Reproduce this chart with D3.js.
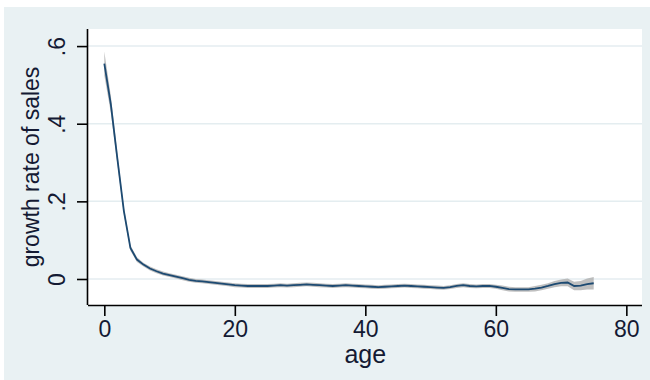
<!DOCTYPE html>
<html><head><meta charset="utf-8">
<script src="https://cdn.jsdelivr.net/npm/d3@7"></script>
<style>html,body{margin:0;padding:0;background:#fff;}svg{display:block;}</style>
</head><body>
<svg id="chart" width="650" height="380"></svg>
<script>
const ages = [0,1,2,3,4,5,6,7,8,9,10,11,12,13,14,15,16,17,18,19,20,21,22,23,24,25,26,27,28,29,30,31,32,33,34,35,36,37,38,39,40,41,42,43,44,45,46,47,48,49,50,51,52,53,54,55,56,57,58,59,60,61,62,63,64,65,66,67,68,69,70,71,72,73,74,75];
const growth = [0.555,0.45,0.31,0.175,0.08,0.05,0.037,0.027,0.020,0.014,0.010,0.006,0.002,-0.002,-0.005,-0.006,-0.008,-0.010,-0.012,-0.014,-0.016,-0.017,-0.018,-0.018,-0.018,-0.018,-0.017,-0.016,-0.017,-0.016,-0.015,-0.014,-0.015,-0.016,-0.017,-0.018,-0.017,-0.016,-0.017,-0.018,-0.019,-0.020,-0.021,-0.020,-0.019,-0.018,-0.017,-0.018,-0.019,-0.020,-0.021,-0.022,-0.023,-0.021,-0.018,-0.016,-0.018,-0.019,-0.018,-0.018,-0.020,-0.023,-0.026,-0.027,-0.027,-0.027,-0.025,-0.022,-0.018,-0.013,-0.010,-0.009,-0.018,-0.017,-0.013,-0.011];
const ciHalf = [0.031,0.022,0.014,0.009,0.007,0.006,0.005,0.005,0.005,0.005,0.005,0.005,0.005,0.005,0.005,0.005,0.005,0.005,0.005,0.005,0.005,0.005,0.005,0.005,0.005,0.005,0.005,0.005,0.005,0.005,0.005,0.005,0.005,0.005,0.005,0.005,0.005,0.005,0.005,0.005,0.005,0.005,0.005,0.005,0.005,0.005,0.005,0.005,0.005,0.005,0.005,0.005,0.005,0.005,0.005,0.005,0.005,0.005,0.005,0.005,0.005,0.006,0.006,0.006,0.006,0.006,0.007,0.007,0.007,0.008,0.009,0.010,0.011,0.012,0.014,0.016];
const xTicks = [0,20,40,60,80];
const xTickLabels = ["0","20","40","60","80"];
const yTicks = [0,0.2,0.4,0.6];
const yTickLabels = ["0",".2",".4",".6"];
const xTitle = "age";
const yTitle = "growth rate of sales";

const svg = d3.select("#chart");
const font = "'Liberation Sans', Arial, sans-serif";

// background
svg.append("rect").attr("x",4).attr("y",7).attr("width",646).attr("height",373).attr("fill","#e9f1f3");

const plot = {left:88, right:642, top:29, bottom:305};
svg.append("rect").attr("x",plot.left).attr("y",plot.top)
  .attr("width",plot.right-plot.left).attr("height",plot.bottom-plot.top).attr("fill","#ffffff");

const x = d3.scaleLinear().domain([-2.5, 82.4]).range([plot.left, plot.right]);
const y = d3.scaleLinear().domain([-0.067, 0.644]).range([plot.bottom, plot.top]);

// gridlines
svg.append("g").selectAll("line").data(yTicks).join("line")
  .attr("x1",plot.left).attr("x2",plot.right)
  .attr("y1",d=>y(d)).attr("y2",d=>y(d))
  .attr("stroke","#e4edf0").attr("stroke-width",1.5);

const data = ages.map((a,i)=>({age:a, v:growth[i], lo:growth[i]-ciHalf[i], hi:growth[i]+ciHalf[i]}));

// CI band
svg.append("path").datum(data)
  .attr("d", d3.area().x(d=>x(d.age)).y0(d=>y(d.lo)).y1(d=>y(d.hi)))
  .attr("fill","#a9a9a9").attr("opacity",0.75);

// line
svg.append("path").datum(data)
  .attr("d", d3.line().x(d=>x(d.age)).y(d=>y(d.v)))
  .attr("fill","none").attr("stroke","#1d4a72").attr("stroke-width",1.8);

// axes
const xAxis = d3.axisBottom(x).tickValues(xTicks).tickFormat((d,i)=>xTickLabels[i]).tickSize(11).tickPadding(5);
const gx = svg.append("g").attr("transform",`translate(0,${plot.bottom})`).call(xAxis);
gx.select(".domain").attr("d",`M${plot.left},0.5H${plot.right}`).attr("stroke","#000").attr("stroke-width",1.6);
gx.selectAll(".tick line").attr("stroke","#000").attr("stroke-width",1.6);
gx.selectAll(".tick text").attr("font-family",font).attr("font-size",23).attr("fill","#141a33");

const yAxis = d3.axisLeft(y).tickValues(yTicks).tickFormat((d,i)=>yTickLabels[i]).tickSize(11).tickPadding(0);
const gy = svg.append("g").attr("transform",`translate(${plot.left},0)`).call(yAxis);
gy.select(".domain").attr("d",`M-0.5,${plot.top}V${plot.bottom}`).attr("stroke","#000").attr("stroke-width",1.6);
gy.selectAll(".tick line").attr("stroke","#000").attr("stroke-width",1.6);
gy.selectAll(".tick text")
  .attr("font-family",font).attr("font-size",23).attr("fill","#141a33")
  .attr("text-anchor","middle").attr("dy",null)
  .attr("x",null)
  .attr("transform","translate(-23,0) rotate(-90)");

// titles
svg.append("text").attr("x",(x(0)+x(80))/2).attr("y",363)
  .attr("text-anchor","middle").attr("font-family",font).attr("font-size",25).attr("fill","#141a33")
  .text(xTitle);
svg.append("text").attr("transform",`translate(39,${(plot.top+plot.bottom)/2}) rotate(-90)`)
  .attr("text-anchor","middle").attr("font-family",font).attr("font-size",23).attr("fill","#141a33")
  .text(yTitle);
</script>
</body></html>
